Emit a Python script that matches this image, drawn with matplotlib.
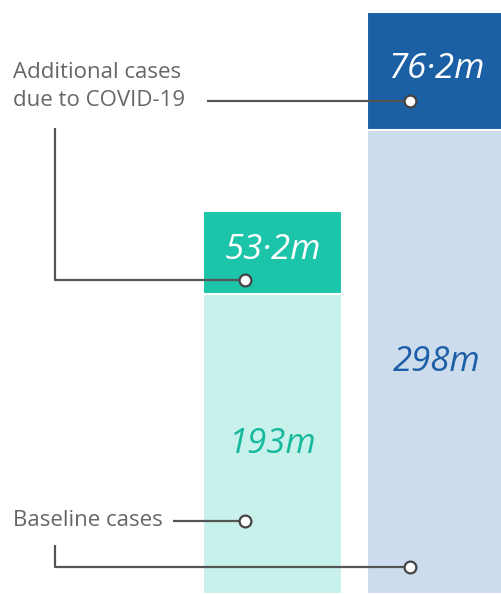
import matplotlib
matplotlib.use("Agg")
import matplotlib.pyplot as plt

categories = ["Bar A", "Bar B"]
baseline = [193, 298]
additional = [53.2, 76.2]
baseline_labels = ["193m", "298m"]
additional_labels = ["53·2m", "76·2m"]

base_colors = ["#c9f1eb", "#cddced"]
add_colors = ["#1cc4a9", "#1b60a4"]
base_text_colors = ["#17b99d", "#1d5fa6"]

W, H = 502, 594
fig = plt.figure(figsize=(W / 100, H / 100), dpi=100)
ax = fig.add_axes([0, 0, 1, 1])
ax.set_xlim(-1.662, 1.399)
ax.set_ylim(0, 381.9)
ax.axis("off")

xs = range(len(categories))
fam = ["Open Sans", "DejaVu Sans"]
ax.bar(xs, baseline, width=0.848, color=base_colors, edgecolor="white", linewidth=1.5)
ax.bar(xs, additional, bottom=baseline, width=0.848, color=add_colors, edgecolor="white", linewidth=1.5)

for i in xs:
    ax.text(i, baseline[i] / 2, baseline_labels[i], ha="center", va="center",
            fontsize=25, style="italic", color=base_text_colors[i], family=fam)
    ax.text(i, baseline[i] + additional[i] / 2 + 1.5, additional_labels[i], ha="center", va="center",
            fontsize=25, style="italic", color="white", family=fam)

# annotation overlay in pixel coordinates
ov = fig.add_axes([0, 0, 1, 1], facecolor="none")
ov.set_xlim(0, W)
ov.set_ylim(H, 0)
ov.axis("off")
lc = "#555555"
tc = "#666666"
ov.text(13, 72, "Additional cases", ha="left", va="center", fontsize=16, color=tc, family=fam)
ov.text(13, 101, "due to COVID-19", ha="left", va="center", fontsize=16, color=tc, family=fam)
ov.text(13, 520, "Baseline cases", ha="left", va="center", fontsize=16, color=tc, family=fam)

lines = [
    ([207, 410], [101, 101]),
    ([55, 55, 245], [128, 280, 280]),
    ([173, 245], [521, 521]),
    ([55, 55, 410], [545, 567, 567]),
]
for lx, ly in lines:
    ov.plot(lx, ly, color=lc, lw=1.6, solid_capstyle="butt")
for px, py in [(410, 101), (245, 280), (245, 521), (410, 567)]:
    ov.plot(px, py, marker="o", ms=8.5, mfc="white", mec="#444444", mew=1.6)

fig.savefig("out.png", dpi=100)
